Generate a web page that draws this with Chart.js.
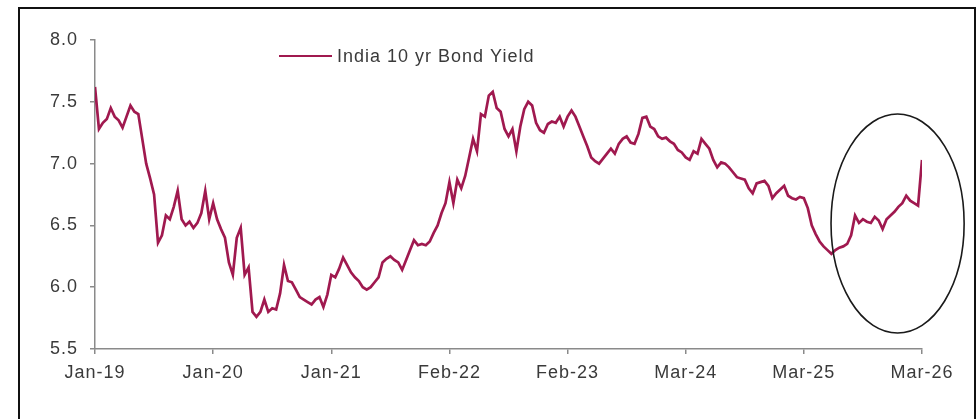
<!DOCTYPE html>
<html>
<head>
<meta charset="utf-8">
<script src="https://cdn.jsdelivr.net/npm/chart.js@4/dist/chart.umd.min.js"></script>
<style>
  html, body { margin: 0; padding: 0; background: #ffffff; }
  #wrap { position: relative; width: 979px; height: 419px; overflow: hidden; }
  #c { position: absolute; left: 0; top: 0; }
  #frame { position: absolute; left: 18px; top: 7px; width: 954px; height: 430px; border: 2px solid #111; pointer-events: none; }
</style>
</head>
<body>
<div id="wrap">
  <canvas id="c" width="979" height="419"></canvas>
  <div id="frame"></div>
</div>
<script>
const seriesName = 'India 10 yr Bond Yield';
const tickLabels = ['Jan-19', 'Jan-20', 'Jan-21', 'Feb-22', 'Feb-23', 'Mar-24', 'Mar-25', 'Mar-26'];
const pointsPerLabel = 30;
const yieldValues = [
  7.62, 7.28, 7.33, 7.36, 7.45, 7.38, 7.35, 7.29, 7.38, 7.47,
  7.42, 7.40, 7.20, 7.00, 6.88, 6.75, 6.36, 6.42, 6.58, 6.55,
  6.65, 6.78, 6.55, 6.50, 6.53, 6.48, 6.52, 6.60, 6.78, 6.55,
  6.68, 6.55, 6.47, 6.40, 6.20, 6.10, 6.40, 6.48, 6.10, 6.16,
  5.80, 5.76, 5.80, 5.90, 5.80, 5.83, 5.82, 5.95, 6.18, 6.05,
  6.04, 5.98, 5.92, 5.90, 5.88, 5.86, 5.90, 5.92, 5.84, 5.94,
  6.10, 6.08, 6.15, 6.24, 6.18, 6.12, 6.08, 6.05, 6.00, 5.98,
  6.00, 6.04, 6.08, 6.20, 6.23, 6.25, 6.22, 6.20, 6.14, 6.22,
  6.30, 6.38, 6.34, 6.35, 6.34, 6.37, 6.44, 6.50, 6.60, 6.68,
  6.85, 6.68, 6.87, 6.80, 6.90, 7.05, 7.20, 7.10, 7.40, 7.38,
  7.55, 7.58, 7.45, 7.42, 7.28, 7.22, 7.28, 7.10, 7.30, 7.44,
  7.50, 7.47, 7.33, 7.27, 7.25, 7.32, 7.34, 7.33, 7.38, 7.30,
  7.38, 7.43, 7.38, 7.30, 7.22, 7.14, 7.05, 7.02, 7.00, 7.04,
  7.08, 7.12, 7.08, 7.16, 7.20, 7.22, 7.17, 7.16, 7.24, 7.37,
  7.38, 7.30, 7.28, 7.22, 7.20, 7.21, 7.18, 7.16, 7.11, 7.09,
  7.05, 7.03, 7.10, 7.08, 7.20, 7.16, 7.12, 7.03, 6.97, 7.01,
  7.00, 6.97, 6.93, 6.89, 6.88, 6.87, 6.80, 6.76, 6.84, 6.85,
  6.86, 6.82, 6.72, 6.76, 6.79, 6.82, 6.74, 6.72, 6.71, 6.73,
  6.72, 6.64, 6.50, 6.43, 6.37, 6.33, 6.30, 6.27, 6.30, 6.32,
  6.33, 6.35, 6.42, 6.58, 6.52, 6.55, 6.53, 6.52, 6.57, 6.54,
  6.47, 6.55, 6.58, 6.61, 6.65, 6.68, 6.74, 6.70, 6.68, 6.66,
  7.03
];
const yMin = 5.5, yMax = 8.0, yStep = 0.5;
// highlight ellipse, in data units (x = observation index, y = yield)
const ellipseCenter = [203.8, 6.515];
const ellipseRadii = [16.9, 0.886];

// ---- styles ----
const lineColor = '#A0194F';
const axisColor = '#8a8a8a';
const textColor = '#3a3a3a';
const fontFamily = '"Liberation Sans", Arial, sans-serif';

const points = yieldValues.map((v, i) => ({ x: i, y: v }));
const lastIndex = yieldValues.length - 1;

const spacingPlugin = {
  id: 'spacing',
  beforeDraw(chart) { chart.ctx.letterSpacing = '1px'; }
};

const ellipsePlugin = {
  id: 'ellipse',
  afterDatasetsDraw(chart) {
    const { ctx, scales: { x, y } } = chart;
    const cx = x.getPixelForValue(ellipseCenter[0]);
    const cy = y.getPixelForValue(ellipseCenter[1]);
    const rx = Math.abs(x.getPixelForValue(ellipseCenter[0] + ellipseRadii[0]) - cx);
    const ry = Math.abs(y.getPixelForValue(ellipseCenter[1] + ellipseRadii[1]) - cy);
    ctx.save();
    ctx.beginPath();
    ctx.ellipse(cx, cy, rx, ry, 0, 0, Math.PI * 2);
    ctx.strokeStyle = '#1a1a1a';
    ctx.lineWidth = 1.6;
    ctx.stroke();
    ctx.restore();
  }
};

const legendPlugin = {
  id: 'customLegend',
  afterDraw(chart) {
    const { ctx, chartArea } = chart;
    const ly = chartArea.top + 16;
    ctx.save();
    ctx.strokeStyle = lineColor;
    ctx.lineWidth = 2;
    ctx.beginPath();
    ctx.moveTo(chartArea.left + 184, ly);
    ctx.lineTo(chartArea.left + 237, ly);
    ctx.stroke();
    ctx.fillStyle = textColor;
    ctx.font = '18px ' + fontFamily;
    ctx.textBaseline = 'middle';
    ctx.textAlign = 'left';
    ctx.letterSpacing = '1px';
    ctx.fillText(seriesName, chartArea.left + 242, ly + 1);
    ctx.restore();
  }
};

new Chart(document.getElementById('c'), {
  type: 'line',
  data: {
    datasets: [{
      label: seriesName,
      data: points,
      borderColor: lineColor,
      borderWidth: 2.7,
      pointRadius: 0,
      tension: 0,
      fill: false
    }]
  },
  options: {
    responsive: false,
    animation: false,
    events: [],
    layout: { padding: { left: 20, top: 40, right: 57, bottom: 30 } },
    plugins: { legend: { display: false }, tooltip: { enabled: false } },
    scales: {
      x: {
        type: 'linear',
        min: 0,
        max: lastIndex,
        afterBuildTicks(scale) {
          scale.ticks = tickLabels.map((_, i) => ({ value: i * pointsPerLabel }));
        },
        afterFit(scale) { scale.height = 40; },
        ticks: {
          autoSkip: false,
          maxRotation: 0,
          padding: 8,
          color: textColor,
          font: { family: fontFamily, size: 18 },
          callback: (v) => tickLabels[Math.round(v / pointsPerLabel)]
        },
        grid: { display: true, drawOnChartArea: false, drawTicks: true, tickLength: 5, color: axisColor, lineWidth: 1.5 },
        border: { display: true, color: axisColor, width: 1.5 }
      },
      y: {
        min: yMin,
        max: yMax,
        afterFit(scale) { scale.width = 75; },
        ticks: {
          stepSize: yStep,
          padding: 12,
          color: textColor,
          font: { family: fontFamily, size: 18 },
          callback: (v) => Number(v).toFixed(1)
        },
        grid: { display: true, drawOnChartArea: false, drawTicks: true, tickLength: 5, color: axisColor, lineWidth: 1.5 },
        border: { display: true, color: axisColor, width: 1.5 }
      }
    }
  },
  plugins: [spacingPlugin, ellipsePlugin, legendPlugin]
});
</script>
</body>
</html>
